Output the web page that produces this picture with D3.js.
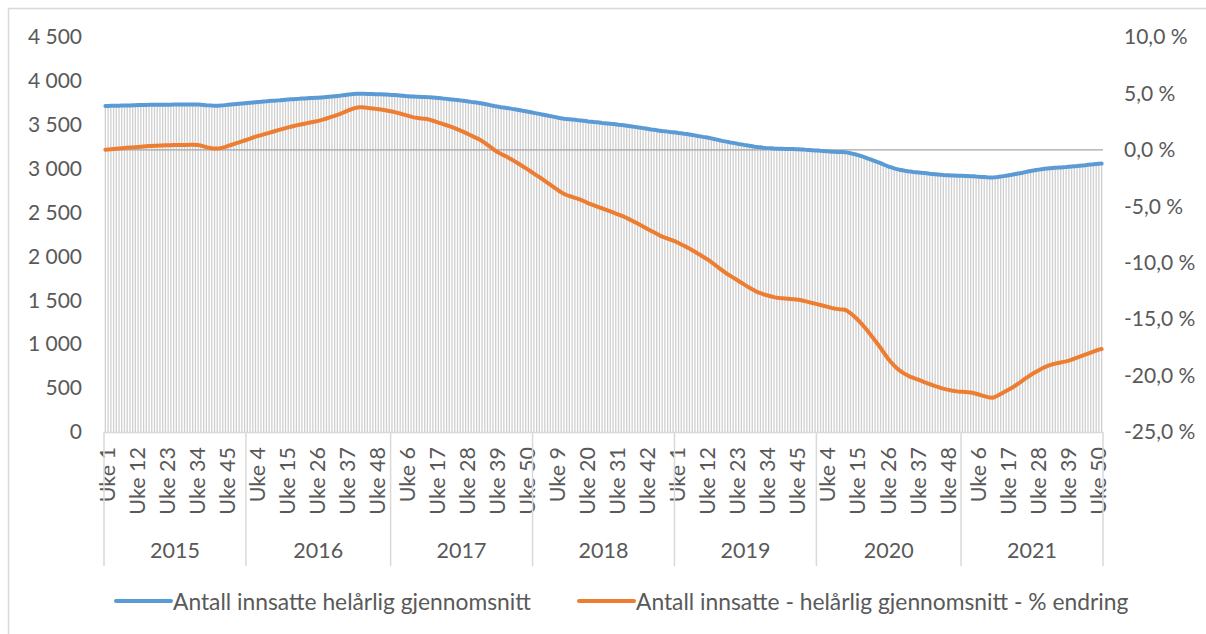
<!DOCTYPE html>
<html>
<head>
<meta charset="utf-8">
<script src="https://cdn.jsdelivr.net/npm/d3@7"></script>
<style>
    body { margin: 0; background: #fff; }
    text { font-family: Lato, "Open Sans", sans-serif; fill: #595959; }
</style>
</head>
<body>
<div id="chart"></div>
<script>

// years on the category axis, and number of weeks in each
const years = [2015, 2016, 2017, 2018, 2019, 2020, 2021];
const weeksPerYear = [52, 53, 52, 52, 52, 53, 52];

// Antall innsatte - helårlig gjennomsnitt (one row per year)
const antallInnsatte = [
    3714,3715,3716,3717,3718,3718,3719,3720,3721,3721,3722,3723,3724,3724,3725,3726,3727,3727,3727,3728,3728,3728,3729,3729,3729,3730,3730,3730,3730,3730,3730,3731,3731,3730,3730,3728,3726,3723,3721,3719,3718,3718,3719,3721,3724,3727,3730,3733,3736,3739,3742,3745,
    3748,3751,3754,3757,3760,3762,3765,3767,3770,3773,3775,3778,3780,3783,3786,3788,3790,3792,3795,3796,3798,3800,3802,3804,3806,3808,3809,3812,3814,3817,3820,3823,3826,3829,3832,3836,3840,3844,3847,3851,3853,3854,3854,3853,3852,3851,3850,3849,3848,3847,3845,3844,3842,
    3840,3838,3836,3834,3831,3828,3826,3823,3821,3819,3818,3817,3817,3815,3813,3810,3807,3804,3801,3798,3795,3792,3789,3785,3782,3778,3774,3770,3766,3761,3757,3753,3749,3743,3737,3731,3724,3717,3710,3705,3700,3696,3692,3687,3681,3676,3671,3665,3659,3654,3648,3642,
    3636,3630,3624,3618,3612,3606,3599,3593,3587,3580,3574,3569,3565,3562,3559,3556,3553,3550,3546,3542,3538,3535,3531,3528,3525,3521,3518,3515,3511,3508,3505,3501,3498,3494,3490,3485,3481,3476,3471,3467,3462,3457,3452,3447,3443,3438,3433,3428,3425,3422,3418,3415,
    3412,3407,3403,3398,3394,3389,3384,3379,3373,3368,3362,3357,3352,3345,3338,3331,3324,3317,3311,3305,3299,3294,3288,3282,3277,3271,3266,3260,3255,3250,3246,3243,3239,3236,3234,3232,3229,3227,3226,3226,3225,3224,3223,3223,3222,3221,3219,3217,3214,3212,3210,3208,
    3206,3203,3201,3199,3197,3194,3192,3191,3190,3189,3188,3183,3176,3169,3161,3152,3142,3132,3121,3110,3098,3086,3074,3063,3049,3036,3024,3014,3004,2995,2988,2982,2976,2971,2967,2963,2960,2957,2953,2950,2947,2943,2940,2937,2934,2931,2928,2926,2924,2922,2921,2919,2918,
    2918,2917,2916,2915,2914,2911,2909,2906,2904,2901,2899,2898,2901,2906,2911,2915,2920,2925,2930,2936,2942,2948,2954,2961,2967,2973,2979,2984,2989,2994,2998,3002,3005,3008,3011,3012,3014,3016,3018,3021,3024,3027,3030,3034,3037,3040,3044,3047,3050,3054,3057,3058
];

// Antall innsatte - helårlig gjennomsnitt - % endring
const endringPst = [
    0.00,0.03,0.05,0.08,0.10,0.12,0.14,0.16,0.18,0.20,0.22,0.24,0.26,0.28,0.30,0.32,0.34,0.35,0.36,0.37,0.38,0.39,0.40,0.40,0.41,0.42,0.42,0.43,0.43,0.44,0.44,0.45,0.45,0.44,0.42,0.38,0.31,0.24,0.18,0.14,0.12,0.12,0.14,0.20,0.27,0.35,0.43,0.51,0.59,0.67,0.75,0.83,
    0.91,0.99,1.08,1.17,1.24,1.30,1.37,1.44,1.51,1.58,1.65,1.72,1.79,1.86,1.93,1.99,2.05,2.11,2.17,2.22,2.27,2.32,2.37,2.42,2.47,2.52,2.57,2.63,2.70,2.78,2.86,2.94,3.02,3.10,3.19,3.29,3.39,3.49,3.59,3.68,3.74,3.77,3.77,3.75,3.72,3.69,3.66,3.63,3.60,3.57,3.53,3.49,3.45,
    3.40,3.34,3.28,3.22,3.15,3.08,3.01,2.94,2.88,2.84,2.81,2.78,2.76,2.73,2.66,2.58,2.50,2.42,2.34,2.26,2.18,2.10,2.01,1.92,1.82,1.72,1.61,1.50,1.39,1.27,1.15,1.04,0.93,0.78,0.62,0.45,0.27,0.09,-0.10,-0.24,-0.37,-0.49,-0.60,-0.74,-0.88,-1.02,-1.17,-1.32,-1.47,-1.62,-1.78,-1.94,
    -2.10,-2.26,-2.42,-2.58,-2.75,-2.92,-3.09,-3.26,-3.43,-3.60,-3.76,-3.90,-4.00,-4.09,-4.17,-4.25,-4.33,-4.42,-4.51,-4.62,-4.74,-4.83,-4.92,-5.01,-5.10,-5.19,-5.28,-5.37,-5.46,-5.55,-5.64,-5.73,-5.82,-5.92,-6.04,-6.16,-6.28,-6.40,-6.53,-6.66,-6.79,-6.92,-7.05,-7.18,-7.31,-7.44,-7.57,-7.69,-7.78,-7.87,-7.96,-8.05,
    -8.14,-8.26,-8.38,-8.50,-8.62,-8.75,-8.89,-9.03,-9.18,-9.32,-9.47,-9.62,-9.76,-9.94,-10.12,-10.31,-10.50,-10.68,-10.86,-11.02,-11.17,-11.32,-11.47,-11.62,-11.77,-11.92,-12.07,-12.22,-12.36,-12.49,-12.60,-12.69,-12.78,-12.86,-12.93,-12.99,-13.05,-13.10,-13.13,-13.15,-13.17,-13.19,-13.21,-13.23,-13.25,-13.28,-13.33,-13.39,-13.45,-13.51,-13.57,-13.63,
    -13.69,-13.75,-13.81,-13.87,-13.93,-14.00,-14.05,-14.09,-14.12,-14.14,-14.16,-14.30,-14.48,-14.68,-14.90,-15.14,-15.40,-15.68,-15.97,-16.27,-16.58,-16.90,-17.22,-17.54,-17.90,-18.25,-18.57,-18.86,-19.12,-19.35,-19.55,-19.72,-19.87,-20.00,-20.11,-20.21,-20.30,-20.39,-20.48,-20.57,-20.66,-20.75,-20.84,-20.93,-21.01,-21.09,-21.16,-21.22,-21.27,-21.32,-21.36,-21.40,-21.43,
    -21.44,-21.46,-21.48,-21.50,-21.55,-21.61,-21.68,-21.75,-21.82,-21.89,-21.95,-21.97,-21.88,-21.76,-21.63,-21.50,-21.37,-21.24,-21.10,-20.95,-20.79,-20.62,-20.45,-20.28,-20.11,-19.95,-19.80,-19.66,-19.52,-19.39,-19.27,-19.17,-19.08,-19.00,-18.94,-18.89,-18.84,-18.79,-18.74,-18.67,-18.59,-18.50,-18.41,-18.32,-18.23,-18.14,-18.05,-17.96,-17.87,-17.78,-17.70,-17.65
];

const leftTicks = [0, 500, 1000, 1500, 2000, 2500, 3000, 3500, 4000, 4500];
const rightTicks = [-25, -20, -15, -10, -5, 0, 5, 10];
const seriesNames = ["Antall innsatte helårlig gjennomsnitt", "Antall innsatte - helårlig gjennomsnitt - % endring"];
const seriesColors = ["#5b9bd5", "#ed7d31"];

// build week categories: "2015|1", "2015|2", ...
let categories = [];
years.forEach(function(y, j) {
    d3.range(1, weeksPerYear[j] + 1).forEach(function(w) {
        categories.push({year: y, week: w, key: y + "|" + w});
    });
});
let data = categories.map(function(c, i) {
    return {key: c.key, week: c.week, year: c.year, antall: antallInnsatte[i], pst: endringPst[i]};
});

// norwegian number format
const nb = d3.formatLocale({decimal: ",", thousands: "\u00a0", grouping: [3], currency: ["", ""]});

const W = 1206, H = 634;
const plot = {left: 104, right: 1103, top: 37, bottom: 432};

let svg = d3.select("#chart").append("svg")
    .attr("width", W)
    .attr("height", H);

// chart frame
svg.append("rect")
    .attr("x", 8.5).attr("y", 8.5)
    .attr("width", 1400).attr("height", 800)
    .attr("fill", "#fff")
    .attr("stroke", "#d9d9d9")
    .attr("stroke-width", 1.5);

let x = d3.scaleBand()
    .domain(data.map(d => d.key))
    .range([plot.left, plot.right]);
let xc = d => x(d.key) + x.bandwidth() / 2;

let yLeft = d3.scaleLinear().domain([0, 4500]).range([plot.bottom, plot.top]);
let yRight = d3.scaleLinear().domain([-25, 10]).range([plot.bottom, plot.top]);

// drop lines from the blue series
svg.append("g")
    .selectAll("line")
    .data(data)
    .enter()
    .append("line")
    .attr("x1", xc).attr("x2", xc)
    .attr("y1", d => yLeft(d.antall))
    .attr("y2", yLeft(0))
    .attr("stroke", "#cfcfcf")
    .attr("stroke-width", 1.3);

// left axis
let axL = svg.append("g")
    .attr("transform", "translate(" + plot.left + ",0)")
    .call(d3.axisLeft(yLeft).tickValues(leftTicks).tickSize(0).tickPadding(22)
        .tickFormat(nb.format(",.0f")));
axL.select(".domain").remove();
axL.selectAll("text").style("font-size", "21px").attr("fill", "#595959");

// right axis
let axR = svg.append("g")
    .attr("transform", "translate(" + plot.right + ",0)")
    .call(d3.axisRight(yRight).tickValues(rightTicks).tickSize(0).tickPadding(21)
        .tickFormat(d => nb.format(".1f")(d).replace("\u2212", "-") + " %"));
axR.select(".domain").remove();
axR.selectAll("text").style("font-size", "21px").attr("fill", "#595959");

// horizontal category axis line
svg.append("line")
    .attr("x1", plot.left).attr("x2", plot.right)
    .attr("y1", yLeft(0) + 0.5).attr("y2", yLeft(0) + 0.5)
    .attr("stroke", "#d9d9d9").attr("stroke-width", 1.5);

// 0 % line of the secondary axis
svg.append("line")
    .attr("x1", plot.left).attr("x2", plot.right)
    .attr("y1", yRight(0)).attr("y2", yRight(0))
    .attr("stroke", "#a6a6a6").attr("stroke-width", 1.3);

// week labels
svg.append("g")
    .selectAll("text")
    .data(data.filter((d, i) => i % 11 === 0))
    .enter()
    .append("text")
    .attr("transform", d => "translate(" + (xc(d) + 1.5) + "," + (plot.bottom + 15) + ") rotate(-90)")
    .attr("text-anchor", "end")
    .attr("dominant-baseline", "central")
    .style("font-size", "21.5px")
    .text(d => "Uke " + d.week);

// year groups
let yearStart = years.map(y => x(y + "|1"));
let yearEnd = years.map((y, j) => x(y + "|" + weeksPerYear[j]) + x.bandwidth());
let sep = svg.append("g");
years.forEach(function(y, j) {
    sep.append("line")
        .attr("x1", yearStart[j]).attr("x2", yearStart[j])
        .attr("y1", plot.bottom).attr("y2", 566)
        .attr("stroke", "#d9d9d9").attr("stroke-width", 1.5);
    sep.append("text")
        .attr("x", (yearStart[j] + yearEnd[j]) / 2)
        .attr("y", 558)
        .attr("text-anchor", "middle")
        .style("font-size", "21.5px")
        .text(y);
});
sep.append("line")
    .attr("x1", plot.right).attr("x2", plot.right)
    .attr("y1", plot.bottom).attr("y2", 566)
    .attr("stroke", "#d9d9d9").attr("stroke-width", 1.5);

// series lines
let lineBlue = d3.line().x(xc).y(d => yLeft(d.antall));
let lineOrange = d3.line().x(xc).y(d => yRight(d.pst));

svg.append("path")
    .datum(data)
    .attr("d", lineBlue)
    .attr("fill", "none")
    .attr("stroke", seriesColors[0])
    .attr("stroke-width", 4)
    .attr("stroke-linejoin", "round")
    .attr("stroke-linecap", "round");

svg.append("path")
    .datum(data)
    .attr("d", lineOrange)
    .attr("fill", "none")
    .attr("stroke", seriesColors[1])
    .attr("stroke-width", 4)
    .attr("stroke-linejoin", "round")
    .attr("stroke-linecap", "round");

// legend
let legendX = [116, 579];
let legend = svg.append("g");
seriesNames.forEach(function(name, j) {
    legend.append("line")
        .attr("x1", legendX[j]).attr("x2", legendX[j] + 55)
        .attr("y1", 601).attr("y2", 601)
        .attr("stroke", seriesColors[j])
        .attr("stroke-width", 4)
        .attr("stroke-linecap", "round");
    legend.append("text")
        .attr("x", legendX[j] + 57)
        .attr("y", 601)
        .attr("dominant-baseline", "central")
        .style("font-size", "22.8px")
        .text(name);
});

</script>
</body>
</html>
